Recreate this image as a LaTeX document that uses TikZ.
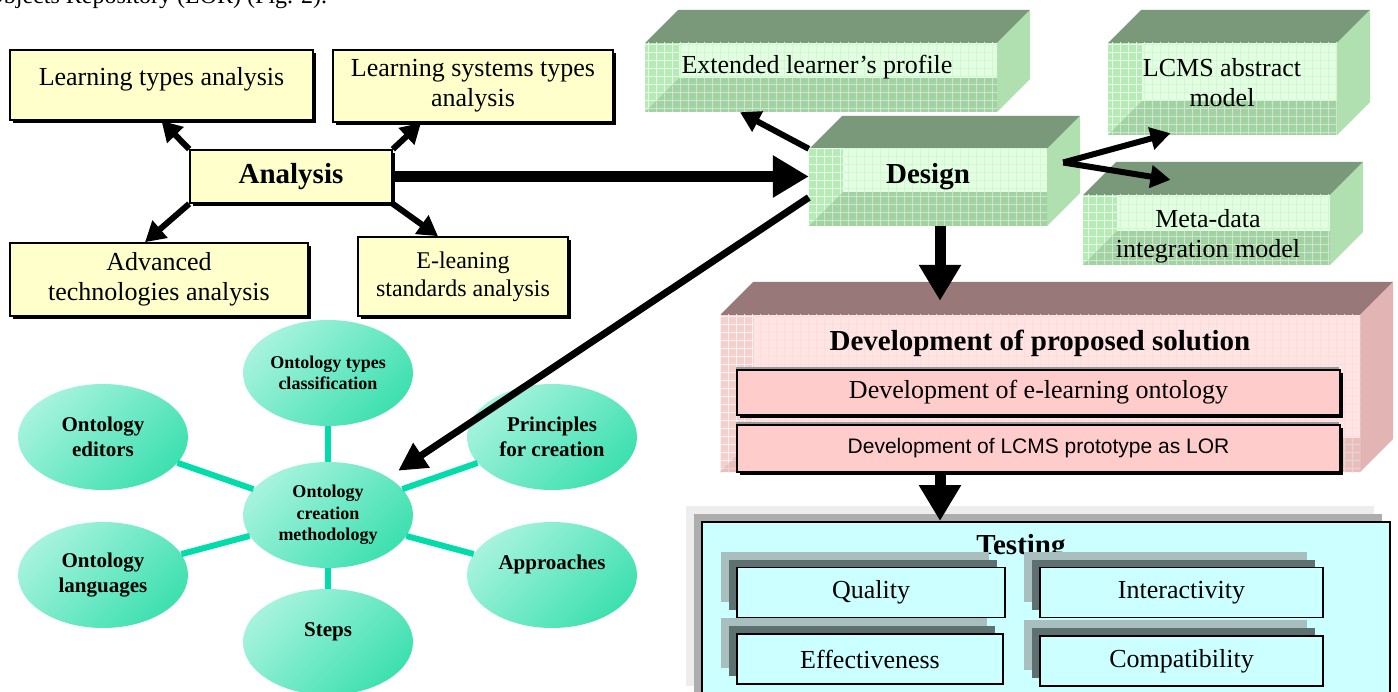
\documentclass[tikz,border=0pt]{standalone}
\usepackage{fontspec}
\setmainfont{Liberation Serif}
\newfontfamily\arialfont{Liberation Sans}
\usetikzlibrary{arrows.meta,shapes.geometric,patterns.meta}

\definecolor{paleyellow}{HTML}{FFFFCC}
\definecolor{greentop}{HTML}{7A997A}
\definecolor{greenside}{HTML}{B0E0B0}
\definecolor{greenmid}{HTML}{B5EBB5}
\definecolor{greenlow}{HTML}{9FD39F}
\definecolor{greenlight}{HTML}{E2FFE2}
\definecolor{pinktop}{HTML}{987878}
\definecolor{pinkside}{HTML}{E2B4B4}
\definecolor{pinkmid}{HTML}{F6CFCF}
\definecolor{pinklow}{HTML}{EBBDBD}
\definecolor{pinklight}{HTML}{FFE4E4}
\definecolor{pinkbox}{HTML}{FFCCCC}
\definecolor{paleblue}{HTML}{CCFFFF}
\definecolor{shadelight}{HTML}{A9BFBF}
\definecolor{shadedark}{HTML}{5E7070}
\definecolor{mintlight}{HTML}{A6F3DD}
\definecolor{mintdark}{HTML}{3EE0B0}
\definecolor{spokegreen}{HTML}{00DDAA}

\tikzset{
  gridded/.style={postaction={pattern={Lines[distance=8pt,line width=.4pt]},pattern color=#1},
                  postaction={pattern={Lines[angle=90,distance=8pt,line width=.4pt]},pattern color=#1}},
  headtext/.style={font=\bfseries\fontsize{29}{33}\selectfont},
  ybox/.style={draw, line width=1.6pt, fill=paleyellow, align=center,
               preaction={fill=black, transform canvas={shift={(3pt,-3pt)}}}},
  devbox/.style={draw, line width=1.5pt, fill=pinkbox, minimum width=603,
               preaction={fill=black!40, transform canvas={shift={(-1pt,3pt)}}},
               preaction={fill=black, transform canvas={shift={(3pt,-3pt)}}}},
  testbox/.style={draw, line width=2pt, fill=paleblue,
               preaction={fill=black!7, transform canvas={shift={(-16pt,16pt)}}},
               preaction={fill=black!32, transform canvas={shift={(-8pt,8pt)}}}},
  itembox/.style={draw, line width=1.5pt, fill=paleblue, minimum height=50,
               preaction={fill=shadelight, transform canvas={shift={(-16pt,16pt)}}},
               preaction={fill=shadedark, transform canvas={shift={(-8pt,8pt)}}}},
  oval/.style={ellipse, minimum width=170, minimum height=106, inner sep=0pt,
               left color=mintlight, right color=mintdark, shading angle=45,
               align=center, font=\bfseries\fontsize{21}{25}\selectfont},
  spokeline/.style={spokegreen, line width=6pt},
  thinarrow/.style={line width=6pt, -{Triangle[length=20pt,width=22pt]}},
  midarrow/.style={line width=7pt, -{Triangle[length=28pt,width=28pt]}},
  fatarrow/.style={line width=11pt, -{Triangle[length=36pt,width=40pt]}}
}

% 3d block: name, colour family, front face from (#3,#4) to (#5,#6)
\newcommand{\slab}[6]{%
  \fill[#2top] (#3,#4) -- (#3+33,#4-33) -- (#5+33,#4-33) -- (#5,#4) -- cycle;
  \fill[#2side] (#5,#4) -- (#5+33,#4-33) -- (#5+33,#6-33) -- (#5,#6) -- cycle;
  \node[fill=#2mid, gridded=white!70!#2mid, inner sep=0pt, minimum width=#5-#3,
        minimum height=#6-#4] (#1) at ({(#3+#5)/2},{(#4+#6)/2}) {};
  \fill[#2low, gridded=#2top!30] (#3,#6) -- (#5,#6) -- (#5,#6-34) -- (#3+34,#6-34) -- cycle;
  \fill[#2light, gridded=#2light!65!#2mid] (#3+34,#4) rectangle (#5,#6-34);
}

\begin{document}
\begin{tikzpicture}[x=1pt, y=-1pt, font=\fontsize{26}{30}\selectfont]
\useasboundingbox (0,0) rectangle (1398,692);
\clip (0,0) rectangle (1398,692);

\node[anchor=base west, font=\fontsize{24}{28}\selectfont] (prevline) at (-17,4)
  {Objects Repository (LOR) (Fig. 2).};

% analysis part
\node[ybox, minimum width=303, minimum height=70, text depth=18pt] (lta) at (161.5,85) {Learning types analysis};
\node[ybox, minimum width=280, minimum height=72] (lst) at (473,86) {Learning systems types\\analysis};
\node[ybox, headtext, minimum width=202, minimum height=53] (ana) at (291,176.5) {Analysis};
\node[ybox, minimum width=298, minimum height=73] (adv) at (159,279.5) {Advanced\\technologies analysis};
\node[ybox, font=\fontsize{24}{28}\selectfont, minimum width=210, minimum height=79] (std) at (463,276.5) {E-leaning\\standards analysis};

\draw[thinarrow] (ana.north west) -- (lta.south);
\draw[thinarrow] (ana.north east) -- ([xshift=-52pt]lst.south);
\draw[thinarrow] (ana.south west) -- ([xshift=-14pt]adv.north);
\draw[thinarrow] (ana.south east) -- ([xshift=-25pt]std.north);

% design part
\slab{profile}{green}{645}{43}{997}{112}
\slab{lcms}{green}{1108}{43}{1337}{135}
\slab{design}{green}{809}{149}{1047}{226}
\slab{meta}{green}{1083}{195}{1330}{265}
\slab{dev}{pink}{720}{315}{1360}{472}

\node[anchor=west] (profile-text) at (678,67) {Extended learner's profile};
\node[align=center] (lcms-text) at (1222,83) {LCMS abstract\\model};
\node[headtext] (design-text) at (928,177) {Design};
\node[align=center] (meta-text) at (1208,236) {Meta-data\\integration model};
\node[headtext] (dev-text) at (1040,343) {Development of proposed solution};

\node[devbox, minimum height=45] (onto) at (1038.5,392.5) {Development of e-learning ontology};
\node[devbox, minimum height=47, font=\arialfont\fontsize{21}{25}\selectfont] (proto) at (1038.5,448.5)
  {Development of LCMS prototype as LOR};

% testing
\node[testbox, minimum width=688, minimum height=180] (test) at (1046,612) {};
\node[headtext] (test-text) at (1021,548) {Testing};
\node[itembox, minimum width=268] (quality) at (871,592.5) {Quality};
\node[itembox, minimum width=283] (inter) at (1181.5,592.5) {Interactivity};
\node[itembox, minimum width=266] (effect) at (870,659) {Effectiveness};
\node[itembox, minimum width=283] (compat) at (1181.5,661) {Compatibility};

% ontology methodology
\node[oval, font=\bfseries\fontsize{18}{21.5}\selectfont] (method) at (328,515) {Ontology\\creation\\methodology};
\node[oval, font=\bfseries\fontsize{18}{21.5}\selectfont] (types) at (328,373) {Ontology types\\classification};
\node[oval] (editors) at (103,437) {Ontology\\editors};
\node[oval] (principles) at (552,437) {Principles\\for creation};
\node[oval] (languages) at (103,575) {Ontology\\languages};
\node[oval] (approaches) at (552,575) {Approaches\\\mbox{}};
\node[oval] (steps) at (328,642) {Steps\\\mbox{}};
\foreach \n in {types,editors,principles,languages,approaches,steps}
  \draw[spokeline] (method) -- (\n);

% arrows
\draw[fatarrow] (ana.east) -- (ana.east -| design.west);
\draw[thinarrow] (design.north west) -- ([xshift=-81pt]profile.south);
\coordinate (fork) at ([xshift=16pt,yshift=25pt]design.east);
\draw[thinarrow] (fork) -- ([xshift=-52pt,yshift=2pt]lcms.south);
\draw[thinarrow] (fork) -- ([xshift=-36pt,yshift=15pt]meta.north);
\draw[midarrow, shorten >=12pt] ([yshift=-10pt]design.west) -- (method.north east);
\draw[fatarrow, shorten >=14pt] ([xshift=12pt]design.south) -- ([xshift=12pt]design.south |- dev.north);
\draw[fatarrow] ([xshift=-100pt]dev.south) -- ([xshift=-100pt]dev.south |- test.north);
\end{tikzpicture}
\end{document}
